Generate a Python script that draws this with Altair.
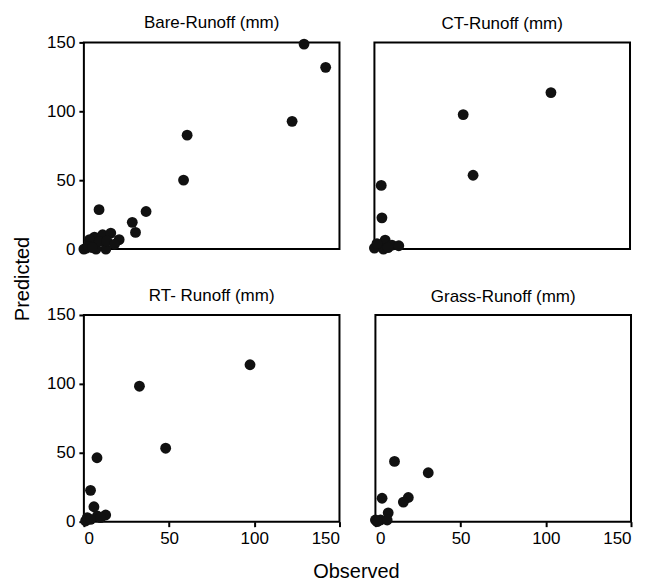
import altair as alt
import pandas as pd

# Observed / Predicted runoff (mm) per treatment
bare_obs = [129.2, 141.9, 122.2, 60.6, 58.5, 36.5, 28.4, 30.3, 8.9, 1.4, 4.2, 6.2, 11.0, 15.8, 20.7, 12.9, 7.1, 3.3, 9.0, 0.0, 2.5, 5.0, 13.5, 18.0]
bare_pred = [148.8, 131.9, 92.7, 82.7, 50.1, 27.3, 19.4, 12.1, 28.6, 0.7, 4.4, 8.7, 10.4, 11.6, 6.8, 0.0, 0.0, 6.8, 5.6, 0.0, 2.0, 1.0, 6.0, 3.5]

ct_obs = [103.6, 52.1, 57.9, 4.0, 4.4, 2.4, 6.3, 10.3, 14.3, 0.0, 5.3, 8.0, 1.5]
ct_pred = [113.6, 97.6, 53.6, 46.2, 22.7, 2.4, 6.5, 2.9, 2.4, 0.7, 0.0, 1.0, 4.0]

rt_obs = [97.5, 32.6, 48.0, 7.7, 3.9, 5.9, 12.8, 2.0, 7.9, 1.0, 3.9, 9.8]
rt_pred = [113.9, 98.3, 53.3, 46.4, 22.7, 10.8, 4.8, 2.9, 4.1, 0.5, 1.7, 2.9]

grass_obs = [11.2, 31.0, 3.9, 19.3, 16.4, 7.5, 0.0, 3.0, 6.9, 1.0]
grass_pred = [43.7, 35.5, 17.0, 17.5, 14.2, 6.4, 1.2, 1.2, 1.2, 0.0]

titles = ["Bare-Runoff (mm)", "CT-Runoff (mm)", "RT- Runoff (mm)", "Grass-Runoff (mm)"]
ticks = [0, 50, 100, 150]
x_title = ["Observed"]
y_title = ["Predicted"]

FONT = "Liberation Sans"
W, H = 256, 207
FRAME = alt.ViewConfig(stroke="black", strokeWidth=2)
NOFRAME = alt.ViewConfig(stroke=None)


def make_axis(show):
    if not show:
        return None
    return alt.Axis(values=ticks, labelFontSize=17, labelFont=FONT, labelColor="black",
                    tickSize=5, tickWidth=2, tickColor="black", domain=False, grid=False,
                    labelPadding=4, title=None)


def panel(obs, pred, title, show_x, show_y):
    df = pd.DataFrame({"Observed": obs, "Predicted": pred})
    return alt.Chart(df).mark_circle(size=118, color="#111111", opacity=1, clip=False).encode(
        x=alt.X("Observed:Q", scale=alt.Scale(domain=[0, 150], nice=False), axis=make_axis(show_x)),
        y=alt.Y("Predicted:Q", scale=alt.Scale(domain=[0, 150], nice=False), axis=make_axis(show_y)),
    ).properties(
        width=W, height=H, view=FRAME,
        title=alt.TitleParams(title, fontSize=17, font=FONT, fontWeight="normal",
                              color="black", offset=1 if show_y else 9, anchor="middle"),
    )


p1 = panel(bare_obs, bare_pred, titles[0], False, True)
p2 = panel(ct_obs, ct_pred, titles[1], False, False)
p3 = panel(rt_obs, rt_pred, titles[2], True, True)
p4 = panel(grass_obs, grass_pred, titles[3], True, False)

row1 = alt.hconcat(p1, p2, spacing=27)
row2 = alt.hconcat(p3, p4, spacing=27)
panels = alt.vconcat(row1, row2, spacing=28)

obs_label = alt.Chart(pd.DataFrame({"t": x_title})).mark_text(
    fontSize=20, font=FONT, color="black", align="center", baseline="middle"
).encode(text="t:N", x=alt.value(273), y=alt.value(10)).properties(width=540, height=20, view=NOFRAME)

grid = alt.vconcat(panels, obs_label, spacing=14)

pred_label = alt.Chart(pd.DataFrame({"t": y_title})).mark_text(
    fontSize=20, font=FONT, color="black", align="center", baseline="middle", angle=270
).encode(text="t:N", x=alt.value(10), y=alt.value(237)).properties(width=20, height=500, view=NOFRAME)

chart = alt.hconcat(pred_label, grid, spacing=12).configure(background="white")

chart.save("out.html", embed_options={"renderer": "svg", "actions": False})
